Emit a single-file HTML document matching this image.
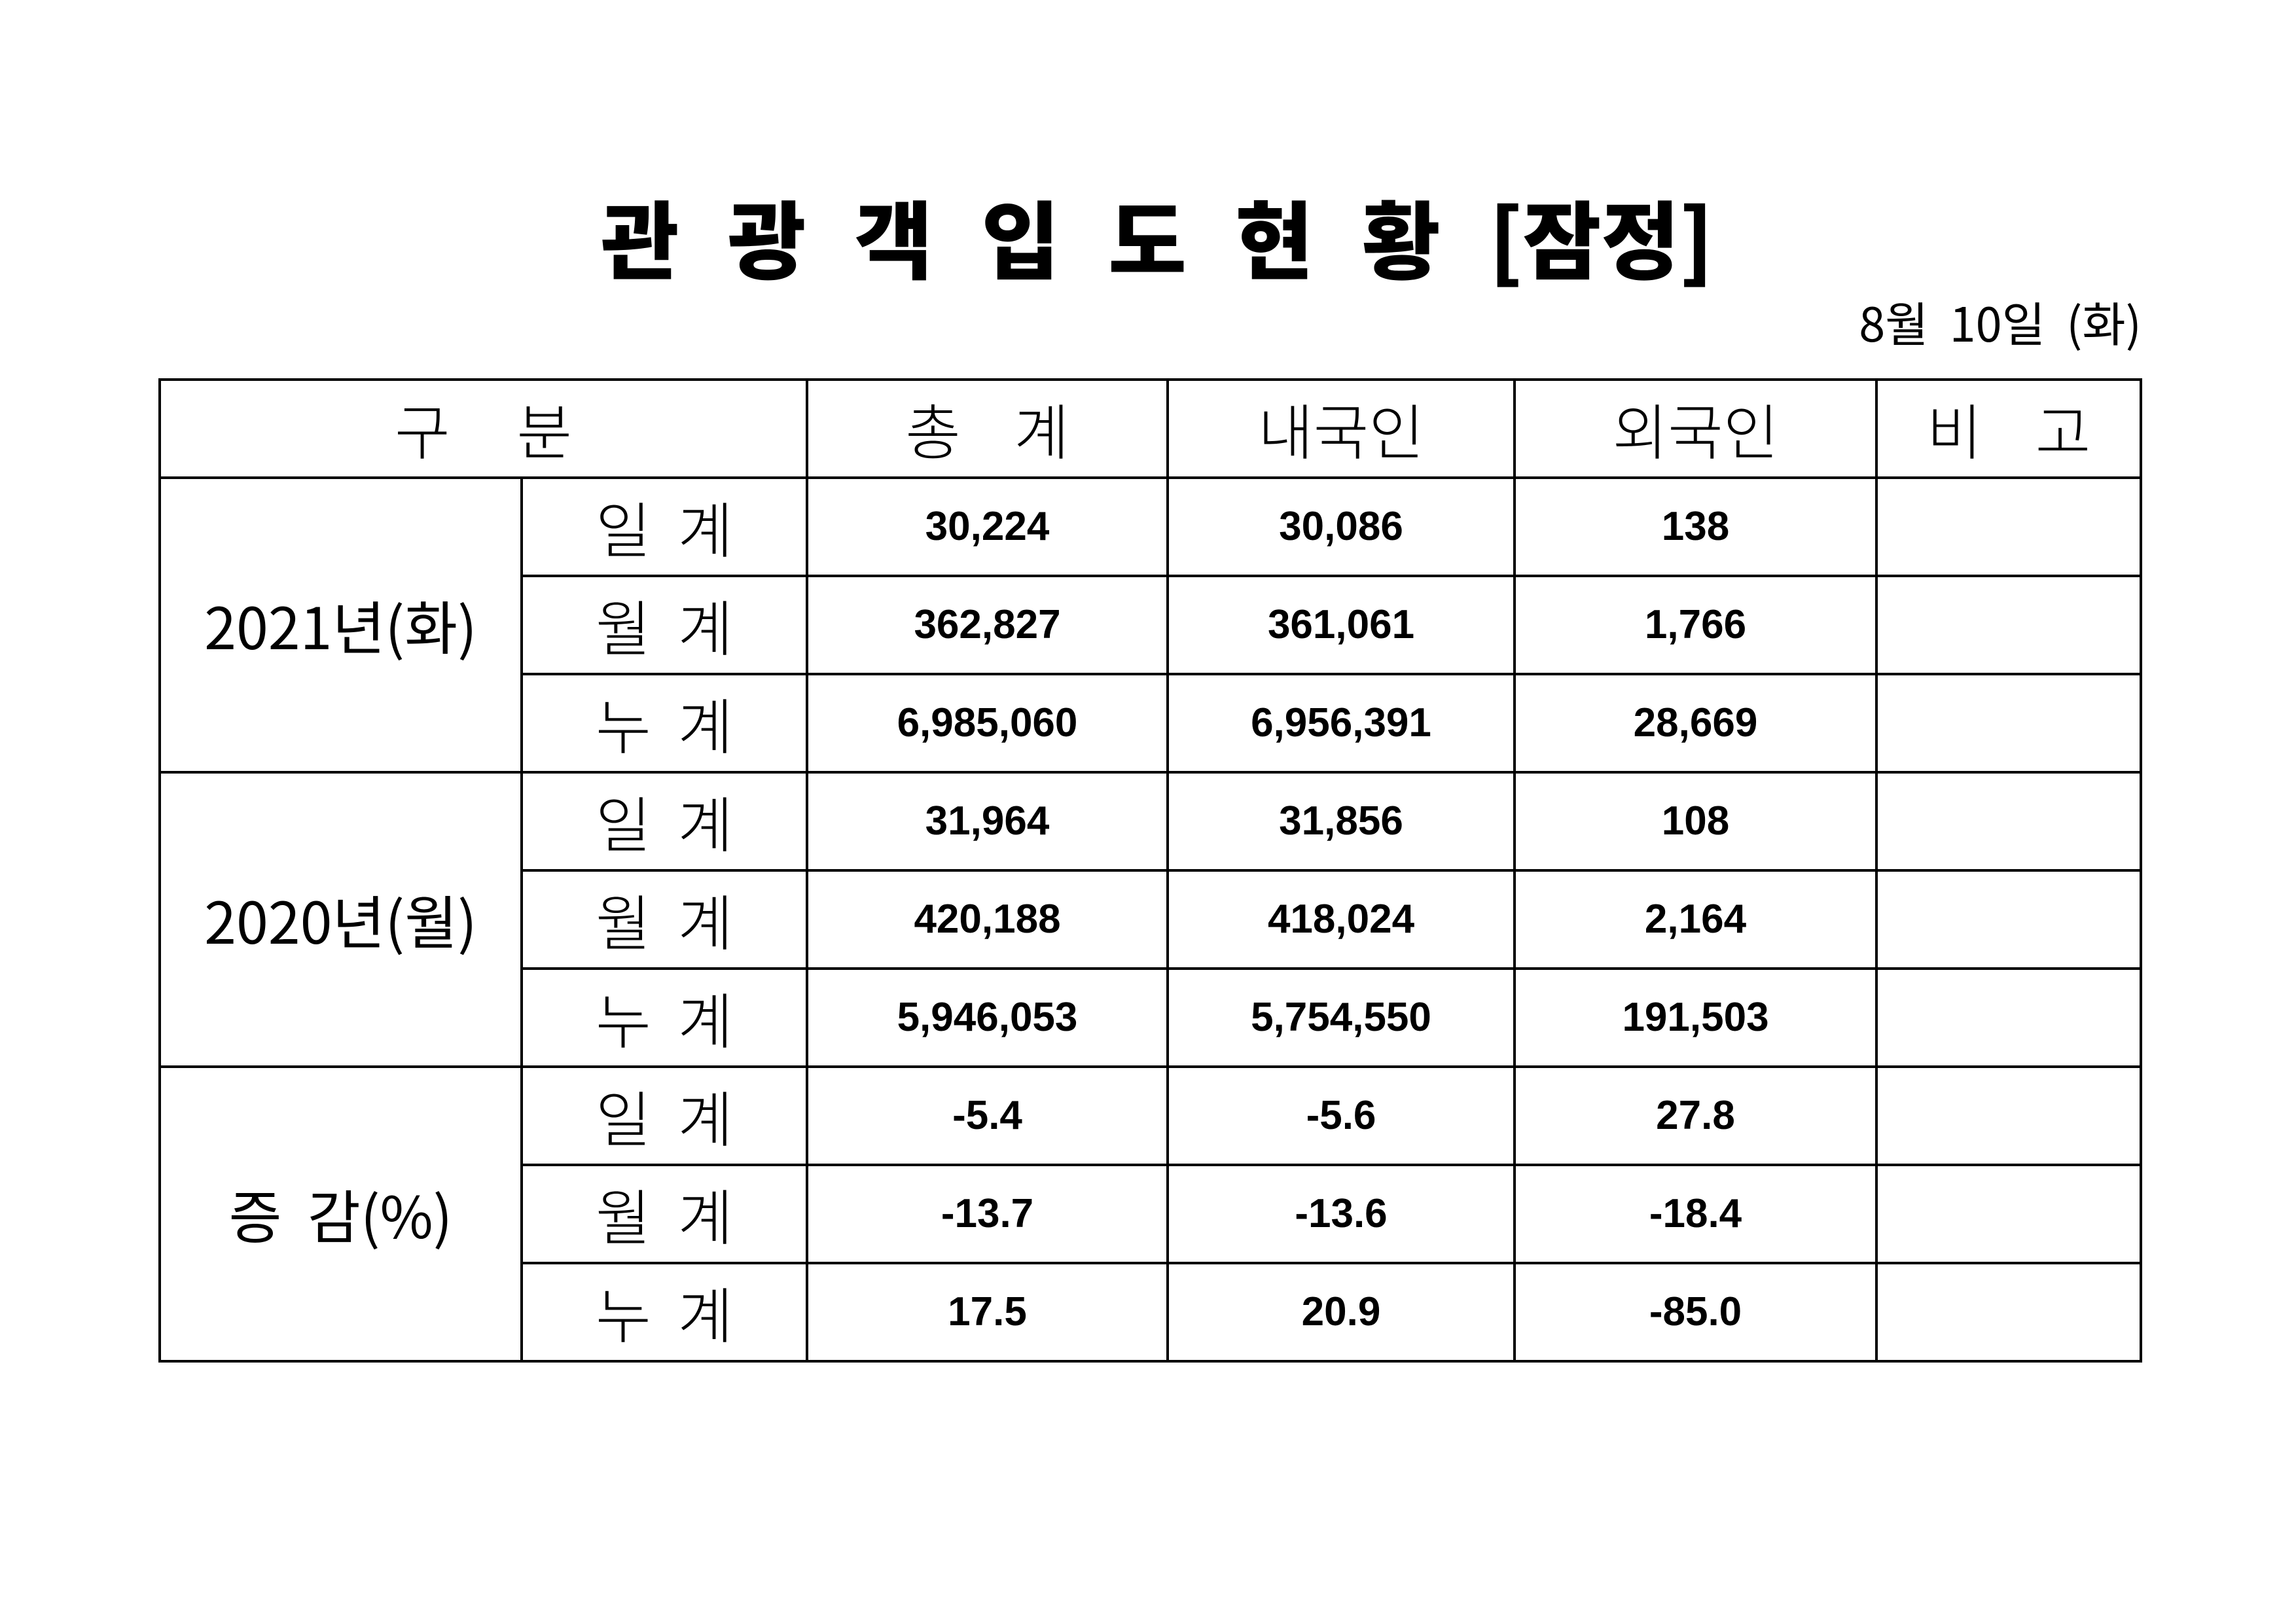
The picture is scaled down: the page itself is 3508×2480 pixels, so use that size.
<!DOCTYPE html>
<html><head><meta charset="utf-8"><style>
html,body{margin:0;padding:0;background:#fff;}
body{width:3508px;height:2480px;position:relative;overflow:hidden;font-family:"Liberation Sans","Noto Sans CJK KR",sans-serif;color:#000;}
.title{position:absolute;left:918px;top:275px;width:1700px;height:170px;display:flex;justify-content:space-between;align-items:center;font-family:"Noto Sans CJK KR",sans-serif;font-weight:900;font-size:130px;line-height:1;}
.date{position:absolute;right:236px;top:443px;font-family:"Noto Sans CJK KR",sans-serif;font-size:72px;line-height:96px;white-space:pre;}
table{position:absolute;left:242px;top:578px;border-collapse:collapse;table-layout:fixed;}
td{border:4px solid #000;height:146px;padding:0;text-align:center;vertical-align:middle;line-height:1;}
.h{font-family:"Noto Sans CJK KR",sans-serif;font-size:92px;font-weight:300;}
.lab{font-family:"Noto Sans CJK KR",sans-serif;font-size:92px;font-weight:300;}
.yr{font-family:"Liberation Sans Narrow","Noto Sans CJK KR",sans-serif;font-size:88px;}
.n{font-family:"Liberation Sans Narrow","Liberation Sans",sans-serif;font-weight:bold;font-size:62px;}
</style></head><body>
<div class="title"><span>관</span><span>광</span><span>객</span><span>입</span><span>도</span><span>현</span><span>황</span><span>[잠정]</span></div>
<div class="date">8월  10일  (화)</div>
<table>
<colgroup><col style="width:553px"><col style="width:436px"><col style="width:551px"><col style="width:530px"><col style="width:553px"><col style="width:404px"></colgroup>
<tr><td colspan="2" class="h">구&nbsp;&nbsp;&nbsp;&nbsp;&nbsp;분</td><td class="h">총&nbsp;&nbsp;&nbsp;&nbsp;계</td><td class="h">내국인</td><td class="h">외국인</td><td class="h">비&nbsp;&nbsp;&nbsp;&nbsp;고</td></tr>
<tr><td rowspan="3" class="yr">2021년(화)</td><td class="lab">일&nbsp;&nbsp;계</td><td class="n">30,224</td><td class="n">30,086</td><td class="n">138</td><td></td></tr>
<tr><td class="lab">월&nbsp;&nbsp;계</td><td class="n">362,827</td><td class="n">361,061</td><td class="n">1,766</td><td></td></tr>
<tr><td class="lab">누&nbsp;&nbsp;계</td><td class="n">6,985,060</td><td class="n">6,956,391</td><td class="n">28,669</td><td></td></tr>
<tr><td rowspan="3" class="yr">2020년(월)</td><td class="lab">일&nbsp;&nbsp;계</td><td class="n">31,964</td><td class="n">31,856</td><td class="n">108</td><td></td></tr>
<tr><td class="lab">월&nbsp;&nbsp;계</td><td class="n">420,188</td><td class="n">418,024</td><td class="n">2,164</td><td></td></tr>
<tr><td class="lab">누&nbsp;&nbsp;계</td><td class="n">5,946,053</td><td class="n">5,754,550</td><td class="n">191,503</td><td></td></tr>
<tr><td rowspan="3" class="yr">증&nbsp;&nbsp;감(%)</td><td class="lab">일&nbsp;&nbsp;계</td><td class="n">-5.4</td><td class="n">-5.6</td><td class="n">27.8</td><td></td></tr>
<tr><td class="lab">월&nbsp;&nbsp;계</td><td class="n">-13.7</td><td class="n">-13.6</td><td class="n">-18.4</td><td></td></tr>
<tr><td class="lab">누&nbsp;&nbsp;계</td><td class="n">17.5</td><td class="n">20.9</td><td class="n">-85.0</td><td></td></tr>
</table>
</body></html>
